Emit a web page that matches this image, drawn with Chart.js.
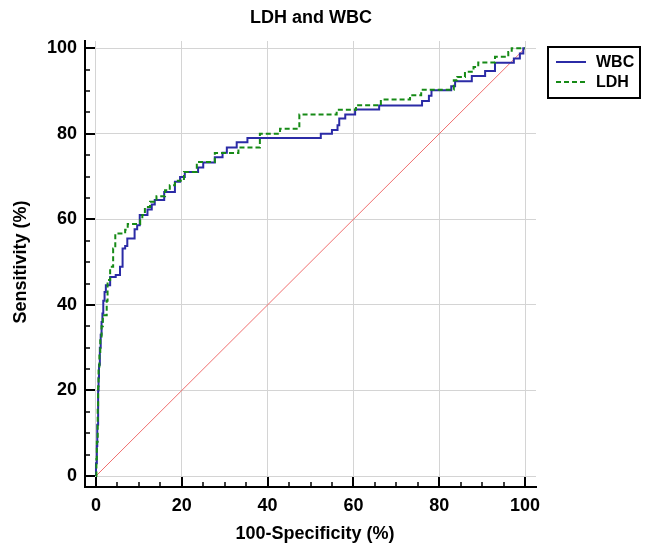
<!DOCTYPE html>
<html>
<head>
<meta charset="utf-8">
<title>LDH and WBC</title>
<script src="https://cdn.jsdelivr.net/npm/chart.js@4.4.1/dist/chart.umd.min.js"></script>
<style>
  body { margin: 0; background: #fff; }
  canvas { display: block; }
</style>
</head>
<body>
<canvas id="roc" width="646" height="549"></canvas>
<script>
// ROC curve points (100-Specificity %, Sensitivity %), step rises
const wbcFpr = [0, 0, 0.2, 0.3, 0.5, 0.6, 0.7, 0.9, 1.1, 1.3, 1.5, 1.7, 2.0, 2.3, 3.3, 4.6, 5.6, 6.2, 6.8, 7.3,
    9.0, 9.6, 10.2, 12.0, 13.0, 13.7, 15.9, 18.4, 19.6, 20.7, 23.8, 25.0, 27.7, 29.5, 30.5, 32.8, 35.3, 52.4, 55.0, 56.3,
    56.7, 58.1, 60.4, 66.0, 76.0, 77.6, 78.2, 82.8, 83.7, 87.6, 90.7, 93.0, 97.4, 98.8, 99.6, 100];
const wbcSens = [0, 3, 7, 12, 20, 23, 26, 30, 33, 36, 38, 41, 43, 44.6, 46.5, 47, 48.9, 53.2, 53.8, 55.5,
    57.7, 58.6, 61.0, 62.3, 63.5, 64.5, 66.4, 68.8, 69.9, 71.1, 72.1, 73.3, 74.5, 75.6, 76.8, 78.0, 79.0, 80.0, 80.9, 82.0,
    83.6, 84.5, 85.7, 86.6, 87.7, 88.9, 90.2, 91.1, 92.3, 93.5, 94.7, 96.6, 97.6, 98.8, 100, 100];

const ldhFpr = [0, 0.1, 0.2, 0.4, 0.5, 0.6, 0.8, 1.0, 1.3, 1.6, 2.5, 2.7, 3.3, 4.0, 4.5, 6.8, 7.4, 10.3, 10.8, 11.4,
    12.6, 14.1, 16.1, 17.2, 18.4, 20.5, 23.5, 27.7, 33.2, 38.2, 42.9, 47.4, 56.1, 60.6, 66.4, 73.2, 75.8, 83.4, 84.2, 86.0,
    88.0, 89.1, 93.0, 96.1, 96.9, 100];
const ldhSens = [0, 4, 8, 16, 21, 25, 29, 32, 35, 37.6, 41, 45.8, 48.9, 53.2, 56.7, 57.6, 58.9, 60.2, 61.0, 62.9,
    64.1, 65.4, 66.8, 68.0, 69.0, 71.1, 73.4, 75.5, 76.8, 80.0, 81.2, 84.5, 85.6, 86.7, 88.0, 89.0, 90.3, 92.5, 93.3, 94.5,
    95.6, 96.7, 98.0, 99.1, 100, 100];

const refLine = [0, 100];
const majorTicks = [0, 20, 40, 60, 80, 100];
const minorStep = 5;

const FONT = '"Liberation Sans", Arial, sans-serif';
const BLUE = '#2b2ba6';
const GREEN = '#168a16';

function toPoints(xs, ys) {
    return xs.map((x, i) => ({ x: x, y: ys[i] }));
}

// axis titles, chart title, minor ticks and the boxed legend
const decorations = {
    id: 'decorations',
    afterDraw(chart) {
        const ctx = chart.ctx;
        const xs = chart.scales.x;
        const ys = chart.scales.y;
        const area = chart.chartArea;

        ctx.save();
        ctx.strokeStyle = '#000';
        for (let v = 0; v <= 100; v += minorStep) {
            const major = v % 20 === 0;
            const len = major ? 10 : 5;
            ctx.lineWidth = major ? 2 : 1.5;
            const px = Math.round(xs.getPixelForValue(v));
            ctx.beginPath();
            ctx.moveTo(px, area.bottom);
            ctx.lineTo(px, area.bottom - len);
            ctx.stroke();
            const py = Math.round(ys.getPixelForValue(v));
            ctx.beginPath();
            ctx.moveTo(area.left, py);
            ctx.lineTo(area.left + len, py);
            ctx.stroke();
        }

        ctx.fillStyle = '#000';
        ctx.textAlign = 'center';
        ctx.textBaseline = 'middle';
        ctx.font = 'bold 18px ' + FONT;
        ctx.fillText('LDH and WBC', 311, 18);
        ctx.fillText('100-Specificity (%)', 315, 534);

        ctx.save();
        ctx.translate(21, 262);
        ctx.rotate(-Math.PI / 2);
        ctx.fillText('Sensitivity (%)', 0, 0);
        ctx.restore();

        // legend box
        ctx.lineWidth = 2;
        ctx.strokeRect(548, 47, 92, 51);
        const items = [
            { label: 'WBC', color: BLUE, dash: [], y: 62 },
            { label: 'LDH', color: GREEN, dash: [5, 3], y: 82 }
        ];
        ctx.font = 'bold 16px ' + FONT;
        ctx.textAlign = 'left';
        items.forEach(it => {
            ctx.strokeStyle = it.color;
            ctx.setLineDash(it.dash);
            ctx.beginPath();
            ctx.moveTo(556, it.y);
            ctx.lineTo(586, it.y);
            ctx.stroke();
            ctx.setLineDash([]);
            ctx.fillText(it.label, 596, it.y + 1);
        });
        ctx.restore();
    }
};

new Chart(document.getElementById('roc'), {
    type: 'scatter',
    data: {
        datasets: [
            {
                label: 'LDH',
                data: toPoints(ldhFpr, ldhSens),
                showLine: true,
                stepped: 'before',
                borderColor: GREEN,
                borderWidth: 2,
                borderDash: [5, 3],
                pointRadius: 0,
                order: 1
            },
            {
                label: 'WBC',
                data: toPoints(wbcFpr, wbcSens),
                showLine: true,
                stepped: 'before',
                borderColor: BLUE,
                borderWidth: 2,
                pointRadius: 0,
                order: 2
            },
            {
                label: 'ref',
                data: toPoints(refLine, refLine),
                showLine: true,
                borderColor: 'rgb(240, 110, 110)',
                borderWidth: 1,
                pointRadius: 0,
                order: 3
            }
        ]
    },
    options: {
        responsive: false,
        animation: false,
        layout: { padding: { top: 41, right: 110, left: 0, bottom: 0 } },
        plugins: {
            legend: { display: false },
            title: { display: false },
            tooltip: { enabled: false }
        },
        scales: {
            x: {
                type: 'linear',
                min: -2.56,
                max: 102.56,
                afterBuildTicks: s => { s.ticks = majorTicks.map(v => ({ value: v })); },
                afterFit: s => { s.height = 62; },
                grid: { color: '#d4d4d4', lineWidth: 1, drawTicks: false },
                border: { color: '#000', width: 2 },
                ticks: { color: '#000', padding: 8, font: { family: FONT, size: 18, weight: 'bold' } }
            },
            y: {
                type: 'linear',
                min: -2.57,
                max: 101.7,
                afterBuildTicks: s => { s.ticks = majorTicks.map(v => ({ value: v })); },
                afterFit: s => { s.width = 85; },
                grid: { color: '#d4d4d4', lineWidth: 1, drawTicks: false },
                border: { color: '#000', width: 2 },
                ticks: { color: '#000', padding: 8, font: { family: FONT, size: 18, weight: 'bold' } }
            }
        }
    },
    plugins: [decorations]
});
</script>
</body>
</html>
